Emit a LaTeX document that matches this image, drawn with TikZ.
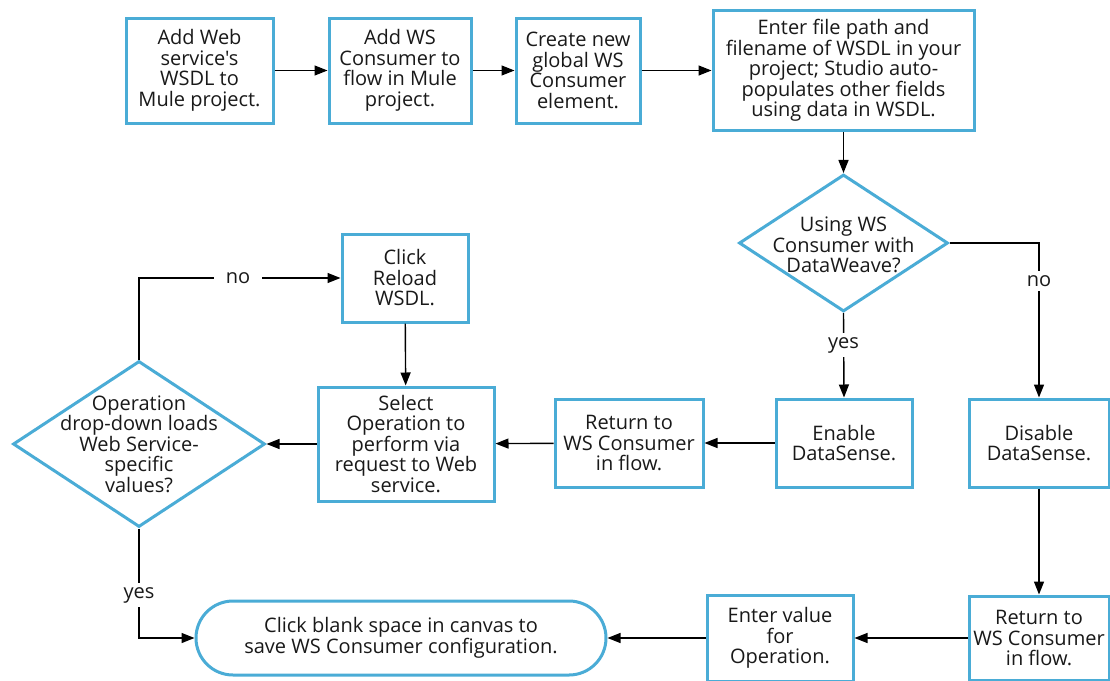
\documentclass[tikz,border=0pt]{standalone}
\usepackage{fontspec}
\setmainfont{Open Sans}[Ligatures=TeXOff]
\usetikzlibrary{shapes.geometric,arrows.meta}
\definecolor{fcblue}{RGB}{74,172,214}
\definecolor{fctext}{RGB}{25,25,25}
\begin{document}
\begin{tikzpicture}[x=1pt,y=-1pt,
  txt/.style={font=\fontsize{20}{20.5}\selectfont, text=fctext, align=center, inner sep=0pt},
  stepbox/.style n args={2}{txt, draw=fcblue, line width=3pt, fill=white,
    minimum width=#1pt, minimum height=#2pt},
  decision/.style n args={2}{draw=fcblue, line width=3pt, fill=white, shape=diamond,
    inner sep=0pt, minimum width=#1pt, minimum height=#2pt},
  terminal/.style n args={2}{txt, draw=fcblue, line width=3pt, fill=white,
    rounded corners=37pt, minimum width=#1pt, minimum height=#2pt},
  flow/.style={-{Triangle[length=13pt,width=10pt]}, line width=1.4pt, draw=black},
  lbl/.style={txt, fill=white, inner xsep=5pt, inner ysep=4pt}
]
\useasboundingbox[fill=white] (0,0) rectangle (1110,680);

% top row
\node[stepbox={147}{105}] (a) at (199.5,70.5) {Add Web\\service's\\WSDL to\\Mule project.};
\node[stepbox={142}{105}] (b) at (400,70.5) {Add WS\\Consumer to\\flow in Mule\\project.};
\node[stepbox={124}{105}] (c) at (578,70.5) {Create new\\global WS\\Consumer\\element.};
\node[stepbox={261}{120}] (d) at (843.5,70.5) {Enter file path and\\filename of WSDL in your\\project; Studio auto-\\populates other fields\\using data in WSDL.};

% decision 1
\node[decision={209}{137}] (q1) at (843.5,243) {};
\node[txt] (q1t) at (843.5,245) {Using WS\\Consumer with\\DataWeave?};

% middle row
\node[stepbox={136}{88}] (en) at (844,443) {Enable\\DataSense.};
\node[stepbox={140}{88}] (dis) at (1039,443) {Disable\\DataSense.};
\node[stepbox={148}{88}] (ret1) at (629,443) {Return to\\WS Consumer\\in flow.};
\node[stepbox={176}{114}] (sel) at (406,444) {Select\\Operation to\\perform via\\request to Web\\service.};
\node[stepbox={126}{88}] (rel) at (405,278) {Click\\Reload\\WSDL.};

% decision 2
\node[decision={252}{166}] (q2) at (139,444) {};
\node[txt] (q2t) at (139,444) {Operation\\drop-down loads\\Web Service-\\specific\\values?};

% bottom row
\node[stepbox={140}{84}] (ret2) at (1039,638) {Return to\\WS Consumer\\in flow.};
\node[stepbox={146}{86}] (ev) at (780,638) {Enter value\\for\\Operation.};
\node[terminal={410}{74}] (end) at (401,638) {Click blank space in canvas to\\save WS Consumer configuration.};

% connectors
\draw[flow] (a) -- (b);
\draw[flow] (b) -- (c);
\draw[flow] (c) -- (d);
\draw[flow] (d) -- (q1);
\draw[flow] (q1.south) -- (en.north);
\draw[flow] (q1.east) -| (dis.north);
\draw[flow] (en) -- (ret1);
\draw[flow] (ret1) -- (sel);
\draw[flow] (rel) -- (sel);
\draw[flow] (sel.west) -- (q2.east);
\draw[flow] (q2.north) |- (rel.west);
\draw[flow] (q2.south) |- (end.west);
\draw[flow] (dis) -- (ret2);
\draw[flow] (ret2) -- (ev);
\draw[flow] (ev) -- (end);

% labels
\node[lbl] (lyes1) at (843.5,345) {yes};
\node[lbl] (lno1) at (1039,281) {no};
\node[lbl, inner xsep=12pt] (lno2) at (238,278) {no};
\node[lbl] (lyes2) at (139,595) {yes};
\end{tikzpicture}
\end{document}
